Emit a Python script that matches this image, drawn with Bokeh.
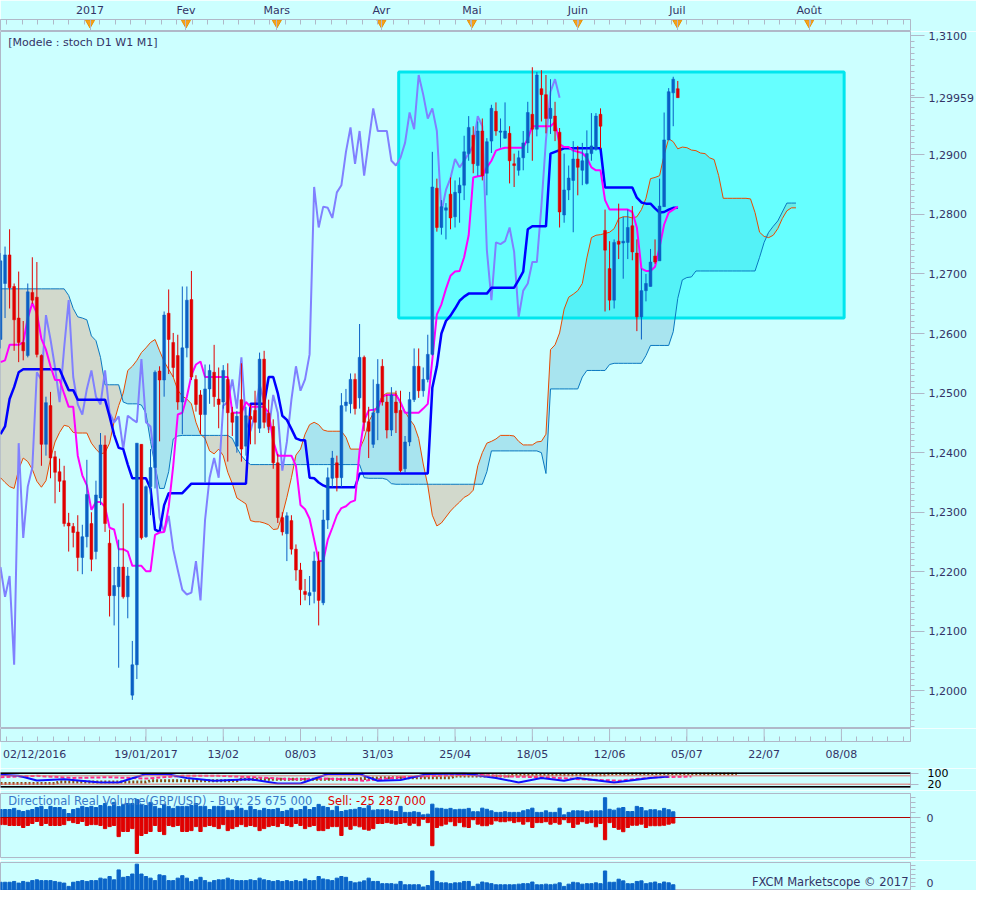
import numpy as np
from bokeh.plotting import figure
from bokeh.layouts import column
from bokeh.models import (Range1d, FixedTicker, CustomJSTickFormatter, Label, Span)
from bokeh.embed import file_html
from bokeh.resources import INLINE

# GBP/USD daily bars, bar 0 = 19/01/2017 (one bar per trading day)
first_bar = -32

opens = [
    1.2590, 1.2684, 1.2732, 1.2679, 1.2626, 1.2585, 1.2563, 1.2669, 1.2661, 1.2563,
    1.2414, 1.2479, 1.2393, 1.2368, 1.2353, 1.2282, 1.2276, 1.2267, 1.2224, 1.2259,
    1.2281, 1.2234, 1.2324, 1.2413, 1.2248, 1.2160, 1.2175, 1.2208, 1.2158, 1.1993,
    1.2044, 1.2414, 1.2259, 1.2343, 1.2375, 1.2537, 1.2522, 1.2634, 1.2585, 1.2563,
    1.2485, 1.2576, 1.2657, 1.2523, 1.2497, 1.2464, 1.2507, 1.2535, 1.2490, 1.2485,
    1.2523, 1.2467, 1.2411, 1.2489, 1.2411, 1.2461, 1.2471, 1.2441, 1.2557, 1.2466,
    1.2444, 1.2383, 1.2291, 1.2264, 1.2286, 1.2238, 1.2203, 1.2167, 1.2160, 1.2167,
    1.2218, 1.2148, 1.2287, 1.2357, 1.2383, 1.2358, 1.2479, 1.2482, 1.2523, 1.2492,
    1.2560, 1.2452, 1.2414, 1.2467, 1.2545, 1.2485, 1.2438, 1.2485, 1.2471, 1.2373,
    1.2418, 1.2489, 1.2545, 1.2504, 1.2523, 1.2565, 1.2844, 1.2778, 1.2807, 1.2834,
    1.2796, 1.2836, 1.2849, 1.2902, 1.2933, 1.2882, 1.2940, 1.2869, 1.2923, 1.2973,
    1.2938, 1.2928, 1.2936, 1.2885, 1.2874, 1.2895, 1.2920, 1.2968, 1.2943, 1.3011,
    1.3001, 1.2961, 1.2965, 1.2938, 1.2799, 1.2841, 1.2857, 1.2893, 1.2874, 1.2852,
    1.2902, 1.2910, 1.2968, 1.2773, 1.2709, 1.2656, 1.2755, 1.2752, 1.2753, 1.2781,
    1.2735, 1.2628, 1.2672, 1.2679, 1.2730, 1.2722, 1.2813, 1.2925, 1.3004, 1.3011,
]
highs = [
    1.2735, 1.2746, 1.2775, 1.2684, 1.2704, 1.2621, 1.2684, 1.2728, 1.2720, 1.2565,
    1.2494, 1.2502, 1.2403, 1.2390, 1.2378, 1.2299, 1.2282, 1.2295, 1.2279, 1.2388,
    1.2300, 1.2353, 1.2433, 1.2429, 1.2271, 1.2208, 1.2254, 1.2315, 1.2208, 1.2084,
    1.2416, 1.2414, 1.2345, 1.2406, 1.2538, 1.2545, 1.2637, 1.2674, 1.2601, 1.2598,
    1.2679, 1.2679, 1.2705, 1.2530, 1.2505, 1.2548, 1.2548, 1.2581, 1.2543, 1.2547,
    1.2550, 1.2477, 1.2470, 1.2550, 1.2477, 1.2481, 1.2504, 1.2568, 1.2571, 1.2489,
    1.2456, 1.2398, 1.2300, 1.2300, 1.2295, 1.2246, 1.2215, 1.2188, 1.2193, 1.2234,
    1.2234, 1.2304, 1.2375, 1.2403, 1.2395, 1.2500, 1.2507, 1.2533, 1.2533, 1.2616,
    1.2563, 1.2477, 1.2523, 1.2557, 1.2557, 1.2497, 1.2510, 1.2504, 1.2504, 1.2428,
    1.2502, 1.2575, 1.2575, 1.2543, 1.2598, 1.2905, 1.2860, 1.2824, 1.2819, 1.2862,
    1.2857, 1.2862, 1.2932, 1.2965, 1.2948, 1.2956, 1.2961, 1.2928, 1.2984, 1.2988,
    1.2961, 1.2988, 1.2948, 1.2902, 1.2907, 1.2940, 1.2989, 1.3047, 1.3039, 1.3042,
    1.3034, 1.3027, 1.2989, 1.2945, 1.2902, 1.2882, 1.2923, 1.2915, 1.2920, 1.2941,
    1.2970, 1.2970, 1.2978, 1.2808, 1.2755, 1.2758, 1.2818, 1.2796, 1.2808, 1.2814,
    1.2758, 1.2709, 1.2700, 1.2742, 1.2758, 1.2860, 1.2971, 1.3012, 1.3031, 1.3024,
]
lows = [
    1.2575, 1.2626, 1.2642, 1.2571, 1.2552, 1.2555, 1.2560, 1.2650, 1.2560, 1.2378,
    1.2395, 1.2357, 1.2315, 1.2334, 1.2276, 1.2234, 1.2241, 1.2201, 1.2196, 1.2241,
    1.2201, 1.2221, 1.2312, 1.2267, 1.2125, 1.2110, 1.2039, 1.2155, 1.2122, 1.1985,
    1.2020, 1.2254, 1.2257, 1.2295, 1.2340, 1.2419, 1.2494, 1.2532, 1.2527, 1.2472,
    1.2431, 1.2560, 1.2522, 1.2469, 1.2431, 1.2350, 1.2482, 1.2477, 1.2441, 1.2474,
    1.2385, 1.2428, 1.2400, 1.2385, 1.2395, 1.2414, 1.2414, 1.2433, 1.2441, 1.2433,
    1.2373, 1.2282, 1.2261, 1.2218, 1.2229, 1.2185, 1.2144, 1.2152, 1.2144, 1.2147,
    1.2110, 1.2144, 1.2272, 1.2342, 1.2335, 1.2342, 1.2469, 1.2466, 1.2464, 1.2474,
    1.2436, 1.2391, 1.2408, 1.2421, 1.2479, 1.2424, 1.2428, 1.2433, 1.2367, 1.2367,
    1.2411, 1.2485, 1.2492, 1.2494, 1.2518, 1.2563, 1.2771, 1.2766, 1.2758, 1.2775,
    1.2778, 1.2786, 1.2824, 1.2890, 1.2869, 1.2865, 1.2857, 1.2832, 1.2903, 1.2932,
    1.2912, 1.2927, 1.2852, 1.2846, 1.2865, 1.2874, 1.2903, 1.2890, 1.2931, 1.2956,
    1.2936, 1.2935, 1.2923, 1.2778, 1.2786, 1.2824, 1.2770, 1.2832, 1.2849, 1.2850,
    1.2890, 1.2907, 1.2910, 1.2637, 1.2639, 1.2642, 1.2725, 1.2692, 1.2725, 1.2723,
    1.2604, 1.2590, 1.2654, 1.2679, 1.2717, 1.2722, 1.2813, 1.2925, 1.2948, 1.2996,
]
closes = [
    1.2722, 1.2732, 1.2677, 1.2623, 1.2585, 1.2571, 1.2670, 1.2656, 1.2565, 1.2414,
    1.2484, 1.2391, 1.2367, 1.2352, 1.2281, 1.2277, 1.2266, 1.2224, 1.2259, 1.2330,
    1.2221, 1.2329, 1.2413, 1.2281, 1.2160, 1.2177, 1.2208, 1.2158, 1.2193, 1.2044,
    1.2416, 1.2257, 1.2343, 1.2375, 1.2535, 1.2522, 1.2631, 1.2590, 1.2543, 1.2485,
    1.2576, 1.2656, 1.2527, 1.2481, 1.2464, 1.2507, 1.2538, 1.2494, 1.2481, 1.2538,
    1.2467, 1.2451, 1.2461, 1.2406, 1.2462, 1.2456, 1.2451, 1.2557, 1.2451, 1.2444,
    1.2383, 1.2291, 1.2267, 1.2294, 1.2238, 1.2203, 1.2170, 1.2162, 1.2165, 1.2218,
    1.2152, 1.2287, 1.2358, 1.2391, 1.2358, 1.2479, 1.2485, 1.2523, 1.2474, 1.2560,
    1.2451, 1.2436, 1.2467, 1.2515, 1.2485, 1.2438, 1.2497, 1.2467, 1.2370, 1.2418,
    1.2489, 1.2545, 1.2504, 1.2523, 1.2565, 1.2846, 1.2778, 1.2813, 1.2811, 1.2794,
    1.2837, 1.2849, 1.2905, 1.2946, 1.2885, 1.2940, 1.2865, 1.2922, 1.2978, 1.2940,
    1.2940, 1.2940, 1.2890, 1.2882, 1.2895, 1.2920, 1.2971, 1.2943, 1.3034, 1.3001,
    1.2961, 1.2978, 1.2940, 1.2804, 1.2841, 1.2861, 1.2893, 1.2879, 1.2890, 1.2902,
    1.2915, 1.2965, 1.2948, 1.2740, 1.2656, 1.2753, 1.2750, 1.2755, 1.2778, 1.2737,
    1.2628, 1.2672, 1.2684, 1.2720, 1.2720, 1.2814, 1.2925, 1.3006, 1.3027, 1.29959,
]

# Ichimoku lines (same bars as the candles)
tenkan = [
    1.2552, 1.2555, 1.2581, 1.2581, 1.2581, 1.2585, 1.2626, 1.2651, 1.2634, 1.2591,
    1.2573, 1.2545, 1.2522, 1.2522, 1.2499, 1.2477, 1.2477, 1.2395, 1.2362, 1.2345,
    1.2304, 1.2317, 1.2317, 1.2309, 1.2274, 1.2271, 1.2238, 1.2238, 1.2234, 1.2210,
    1.2210, 1.2210, 1.2201, 1.2201, 1.2262, 1.2266, 1.2267, 1.2309, 1.2378, 1.2464,
    1.2467, 1.2494, 1.2530, 1.2548, 1.2553, 1.2527, 1.2527, 1.2527, 1.2527, 1.2527,
    1.2527, 1.2467, 1.2467, 1.2467, 1.2485, 1.2477, 1.2477, 1.2477, 1.2477, 1.2467,
    1.2419, 1.2395, 1.2395, 1.2395, 1.2395, 1.2378, 1.2312, 1.2305, 1.2289, 1.2254,
    1.2218, 1.2218, 1.2254, 1.2274, 1.2295, 1.2307, 1.2310, 1.2317, 1.2320, 1.2403,
    1.2454, 1.2471, 1.2472, 1.2474, 1.2494, 1.2497, 1.2497, 1.2497, 1.2485, 1.2467,
    1.2467, 1.2467, 1.2467, 1.2474, 1.2482, 1.2556, 1.2632, 1.2649, 1.2675, 1.2697,
    1.2704, 1.2705, 1.2728, 1.2765, 1.2862, 1.2864, 1.2865, 1.2879, 1.2890, 1.2907,
    1.2910, 1.2912, 1.2912, 1.2912, 1.2912, 1.2912, 1.2927, 1.2948, 1.2948, 1.2948,
    1.2948, 1.2948, 1.2955, 1.2918, 1.2913, 1.2913, 1.2907, 1.2905, 1.2903, 1.2895,
    1.2879, 1.2874, 1.2874, 1.2824, 1.2808, 1.2808, 1.2808, 1.2808, 1.2808, 1.2804,
    1.2778, 1.2709, 1.2705, 1.2705, 1.2712, 1.2745, 1.2783, 1.2803, 1.2808, 1.2813,
]
kijun = ([1.2431, 1.2444, 1.2490, 1.2510, 1.2535] + [1.2540] * 9
         + [1.2522, 1.2505, 1.2505] + [1.2489] * 7
         + [1.2461, 1.2430, 1.2408, 1.2406, 1.2380] + [1.2357] * 4
         + [1.2340, 1.2271, 1.2267, 1.2312] + [1.2332] * 4 + [1.2340]
         + [1.2348] * 13 + [1.2482] * 4
         + [1.2527, 1.2527, 1.2500, 1.2462, 1.2455, 1.2440, 1.2424, 1.2421, 1.2421,
            1.2358, 1.2357, 1.2350, 1.2345]
         + [1.2342] * 7 + [1.2365] * 16
         + [1.2509, 1.2545, 1.2600, 1.2621, 1.2630, 1.2642, 1.2655, 1.2662]
         + [1.2667] * 5 + [1.2677] * 6 + [1.2690, 1.2704, 1.2775] + [1.2780] * 4
         + [1.2902, 1.2905, 1.2908] + [1.2911] * 9 + [1.2845] * 7
         + [1.2828, 1.2820, 1.2818, 1.2818, 1.2810, 1.2803, 1.2804, 1.2808, 1.2811, 1.2811])

# cloud spans run 26 bars past the last candle
senkou_a = [
    1.2358, 1.2350, 1.2343, 1.2340, 1.2372, 1.2391, 1.2385, 1.2372, 1.2352, 1.2342,
    1.2353, 1.2390, 1.2418, 1.2434, 1.2446, 1.2444, 1.2434, 1.2433, 1.2433, 1.2433,
    1.2416, 1.2406, 1.2398, 1.2400, 1.2416, 1.2452, 1.2479, 1.2500, 1.2538, 1.2545,
    1.2555, 1.2568, 1.2576, 1.2585, 1.2590, 1.2571, 1.2553, 1.2540, 1.2527, 1.2505,
    1.2495, 1.2490, 1.2482, 1.2451, 1.2431, 1.2424, 1.2403, 1.2398, 1.2406, 1.2395,
    1.2367, 1.2348, 1.2324, 1.2319, 1.2314, 1.2286, 1.2284, 1.2284, 1.2282, 1.2279,
    1.2271, 1.2272, 1.2295, 1.2325, 1.2358, 1.2396, 1.2406, 1.2431, 1.2447, 1.2451,
    1.2447, 1.2438, 1.2436, 1.2436, 1.2436, 1.2436, 1.2426, 1.2406, 1.2406, 1.2406,
    1.2423, 1.2452, 1.2466, 1.2480, 1.2495, 1.2500, 1.2500, 1.2500, 1.2482, 1.2469,
    1.2456, 1.2446, 1.2424, 1.2381, 1.2345, 1.2295, 1.2277, 1.2282, 1.2292, 1.2302,
    1.2310, 1.2317, 1.2325, 1.2329, 1.2337, 1.2378, 1.2400, 1.2416, 1.2419, 1.2423,
    1.2429, 1.2429, 1.2429, 1.2428, 1.2419, 1.2413, 1.2413, 1.2413, 1.2418, 1.2419,
    1.2431, 1.2573, 1.2581, 1.2601, 1.2641, 1.2661, 1.2666, 1.2672, 1.2684, 1.2727,
    1.2761, 1.2765, 1.2766, 1.2768, 1.2770, 1.2776, 1.2793, 1.2796, 1.2796, 1.2794,
    1.2796, 1.2808, 1.2827, 1.2860, 1.2862, 1.2865, 1.2900, 1.2927, 1.2922, 1.2910,
    1.2913, 1.2912, 1.2908, 1.2907, 1.2903, 1.2902, 1.2895, 1.2892, 1.2865, 1.2827,
    1.2827, 1.2827, 1.2827, 1.2827, 1.2827, 1.2826, 1.2803, 1.2770, 1.2763, 1.2761,
    1.2765, 1.2776, 1.2793, 1.2806, 1.2811, 1.2811,
]
senkou_b = ([1.2675] * 15
            + [1.2664, 1.2642, 1.2628, 1.2626, 1.2623, 1.2596, 1.2588, 1.2560]
            + [1.2514] * 4 + [1.2485] + [1.2482] * 3
            + [1.2480, 1.2466, 1.2419, 1.2378, 1.2340, 1.2340, 1.2368, 1.2423, 1.2428]
            + [1.2429] * 11 + [1.2424, 1.2408, 1.2395, 1.2386] + [1.2380] * 25
            + [1.2358] + [1.2357] * 4 + [1.2355, 1.2348] + [1.2347] * 20
            + [1.2368] + [1.2403] * 11 + [1.2400, 1.2365] + [1.2507] * 7
            + [1.2527] + [1.2538] * 5 + [1.2548] + [1.2550] * 7 + [1.2563]
            + [1.2580] * 5 + [1.2603, 1.2659, 1.2690, 1.2694, 1.2695] + [1.2705] * 14
            + [1.2728, 1.2753, 1.2770, 1.2780, 1.2789, 1.2804] + [1.2819] * 3)
chikou_shift = 26

# Directional Real Volume panel (millions) and total volume panel
buy_volume = [
    36, 36, 36, 41, 32, 27, 32, 36, 45, 50, 36, 50, 45, 45, 36, 18, 36, 41, 50, 45,
    50, 45, 54, 63, 50, 68, 50, 59, 63, 63, 81, 59, 54, 68, 50, 41, 59, 50, 41, 50,
    50, 50, 54, 63, 50, 50, 36, 50, 50, 50, 32, 32, 50, 41, 32, 50, 36, 32, 41, 36,
    36, 41, 27, 32, 41, 32, 36, 50, 36, 45, 59, 50, 45, 32, 50, 27, 32,
    35, 37, 45, 41, 53, 33, 35, 35, 35, 30, 27, 50, 23, 23, 26, 23, 12, 15, 60, 42,
    41, 37, 41, 35, 37, 37, 41, 26, 26, 42, 37, 30, 23, 23, 26, 23, 23, 23, 30, 35,
    42, 23, 23, 30, 23, 23, 42, 12, 23, 30, 30, 30, 26, 30, 30, 30, 89, 37, 33, 42,
    45, 27, 27, 50, 45, 30, 35, 35, 30, 41, 35, 25.675,
]
sell_volume = [
    32, 32, 36, 36, 36, 45, 36, 27, 18, 36, 27, 36, 36, 36, 32, 14, 23, 27, 18, 36,
    32, 32, 36, 50, 41, 36, 86, 63, 63, 50, 162, 81, 72, 63, 36, 63, 77, 36, 41, 36,
    63, 63, 59, 41, 63, 41, 36, 41, 50, 32, 59, 50, 41, 32, 41, 36, 41, 59, 50, 41,
    36, 41, 27, 36, 41, 27, 36, 50, 41, 36, 59, 59, 50, 41, 41, 81, 41,
    53, 37, 42, 53, 57, 50, 27, 27, 23, 26, 30, 27, 23, 35, 26, 37, 8, 23, 127, 45,
    37, 30, 19, 37, 23, 42, 45, 10, 30, 37, 37, 30, 15, 19, 19, 15, 23, 19, 30, 19,
    45, 23, 23, 19, 30, 23, 30, 10, 23, 45, 30, 19, 26, 23, 42, 27, 100, 23, 45, 53,
    64, 45, 35, 35, 30, 45, 37, 37, 37, 35, 30, 25.287,
]
total_volume = [
    10, 10, 10, 11, 9, 11, 10, 12, 13, 12, 12, 12, 11, 10, 9, 5, 10, 11, 12, 11,
    12, 12, 15, 14, 17, 13, 25, 16, 17, 20, 32, 20, 17, 15, 12, 19, 18, 12, 12, 15,
    18, 15, 11, 13, 16, 12, 10, 12, 13, 13, 15, 13, 12, 12, 12, 13, 12, 15, 13, 12,
    11, 12, 11, 12, 11, 12, 11, 14, 12, 12, 17, 14, 13, 12, 15, 17, 16,
    11, 9.3, 10.3, 11.7, 15, 11, 11, 8.3, 8.3, 8.3, 7.7, 11, 7, 7, 7, 7, 4.3, 6, 23.7, 11,
    9.3, 9.3, 8.3, 9.3, 9.3, 11, 11, 5, 7.7, 10.3, 9.3, 8.3, 7, 7, 7, 7, 7, 7.7, 8.3, 8.3,
    10.3, 7, 7, 7.7, 7, 7.7, 9.3, 5, 7.7, 10, 9.3, 7.7, 8.3, 8.3, 9.3, 8.3, 23.7, 10, 10, 13.7,
    11.7, 8.3, 8.3, 11, 11.7, 8.3, 9.3, 10.3, 8.3, 10.3, 9.3, 7,
]

# stochastics D1 / W1 / M1 (bar, value)
stoch_d1_bars = [-32, -28, -24, -18, -10, -6, 0, 5, 9, 15, 23, 29, 34, 40, 47, 51, 56, 62, 70, 77,
                 82, 87, 92, 95, 103, 111, 115]
stoch_d1 = [87, 80, 47, 55, 32, 32, 93, 90, 65, 45, 55, 25, 25, 93, 93, 45, 50, 93, 97, 65,
            32, 65, 45, 65, 32, 65, 75]
stoch_w1_bars = [-32, -24, -16, -8, 0, 8, 16, 24, 32, 40, 48, 56, 64, 72, 80, 88, 96, 104, 112, 120]
stoch_w1 = [70, 80, 65, 70, 60, 80, 80, 70, 55, 60, 45, 70, 80, 90, 75, 70, 55, 45, 70, 75]
stoch_m1_bars = [-32, -20, -19, 0, 1, 20, 21, 45, 52, 67, 68, 80, 81, 101, 102, 130]
stoch_m1 = [25, 25, 35, 35, 45, 45, 55, 55, 67, 67, 78, 78, 87, 87, 95, 95]
stoch_levels = [20, 100]

month_names = ["2017", "Fev", "Mars", "Avr", "Mai", "Juin", "Juil", "Août"]
month_pos = [-12.3, 8.8, 28.8, 51.8, 71.7, 95.0, 116.9, 145.9]
date_names = ["19/01/2017", "13/02", "08/03", "31/03", "25/04", "18/05", "12/06", "05/07",
              "22/07", "08/08"]
date_pos = [0, 17, 34, 51, 68, 85, 102, 119, 136, 153]
first_date_name = "02/12/2016"   # its tick (bar -34) lies just off the left edge

box_bars = (55.6, 153.6)
box_prices = (1.2626, 1.3039)

BG = "#ccffff"
EDGE = "#b0b8c8"
TXT = "#333366"
FONT = "DejaVu Sans"
BLUE = "#0a5fc4"
RED = "#e00000"

W = 976
RIGHT = 66
xr = Range1d(-32.0, 168.2)
minor_grid = [round(v, 2) for v in np.arange(-34, 170, 3.4)]


def panel(height, y_range, top=0, bottom=0, **kw):
    p = figure(width=W, height=height, x_range=xr, y_range=y_range,
               toolbar_location=None, output_backend="svg",
               min_border_left=0, min_border_right=RIGHT,
               min_border_top=top, min_border_bottom=bottom,
               background_fill_color=BG, border_fill_color=BG,
               outline_line_color=EDGE, **kw)
    p.grid.visible = False
    return p


def style_axis(ax):
    ax.axis_line_color = EDGE
    ax.major_tick_line_color = EDGE
    ax.minor_tick_line_color = EDGE
    ax.major_label_text_font = FONT
    ax.major_label_text_font_size = "11px"
    ax.major_label_text_color = TXT


# month strip on top
top = panel(31, Range1d(0, 1), top=18, x_axis_location="above", y_axis_location=None)
ax = top.xaxis[0]
style_axis(ax)
ax.ticker = FixedTicker(ticks=month_pos, minor_ticks=minor_grid)
ax.major_label_overrides = dict(zip(month_pos, month_names))
ax.major_tick_in, ax.major_tick_out = 13, 0
ax.minor_tick_in, ax.minor_tick_out = 5, 0
ax.major_label_standoff = 3
top.scatter(month_pos, [0.72] * len(month_pos), marker="inverted_triangle", size=9,
            fill_color="#f7a21b", line_color="#e89000")

# main price chart; the last price replaces the 1,3000 label as in the original
last_price = closes[-1]
price_ticks = [round(1.20 + 0.01 * k, 2) for k in range(12) if k != 10] + [last_price]
main = panel(697, Range1d(1.1937, 1.3107), x_axis_location=None, y_axis_location="right")
ya = main.yaxis[0]
style_axis(ya)
ya.ticker = FixedTicker(ticks=price_ticks,
                        minor_ticks=[round(1.19 + 0.001 * k, 3) for k in range(122)])
ya.formatter = CustomJSTickFormatter(code="""
    const s = Math.abs(tick * 100 - Math.round(tick * 100)) < 1e-6 ? tick.toFixed(4) : tick.toFixed(5);
    return s.replace('.', ',');
""")
ya.major_tick_out, ya.major_tick_in = 14, 0
ya.minor_tick_out, ya.minor_tick_in = 4, 0
ya.major_label_standoff = 4

bars = np.arange(first_bar, first_bar + len(closes))
cloud_bars = np.arange(first_bar, first_bar + len(senkou_a))
sa = np.array(senkou_a)
sb = np.array(senkou_b)
upper = np.maximum(sa, sb)
main.varea(cloud_bars, y1=sb, y2=upper, fill_color="#a8e4ef")
main.varea(cloud_bars, y1=sa, y2=upper, fill_color="#d2d9cc")

main.quad(left=box_bars[0], right=box_bars[1], bottom=box_prices[0], top=box_prices[1],
          fill_color="#00ffff", fill_alpha=0.5, line_color="#00e6ee", line_width=3)

main.line(cloud_bars, sa, line_color="#e84a00", line_width=1)
main.line(cloud_bars, sb, line_color="#0a78c0", line_width=1)
main.line(bars - chikou_shift, closes, line_color="#8080ff", line_width=2)
main.line(bars, kijun, line_color="#0000ff", line_width=2.5)
main.line(bars, tenkan, line_color="#ff00ff", line_width=2)

o = np.array(opens)
c = np.array(closes)
colors = [BLUE if cc >= oo else RED for oo, cc in zip(o, c)]
main.segment(bars, lows, bars, highs, line_color=colors, line_width=1)
main.vbar(bars, width=0.62, top=np.maximum(o, c), bottom=np.minimum(o, c),
          fill_color=colors, line_color=colors, line_width=0.5)

main.add_layout(Label(x=-30.3, y=1.3099, text="[Modele : stoch D1 W1 M1]",
                      text_font=FONT, text_font_size="11px", text_color=TXT,
                      text_baseline="top"))

# date strip below (date ticks drawn full height, label-only tick for 02/12/2016)
bstrip = panel(40, Range1d(0, 1), bottom=27, x_axis_location="below", y_axis_location=None)
bx = bstrip.xaxis[0]
style_axis(bx)
first_label_pos = -24.5
bx.ticker = FixedTicker(ticks=[first_label_pos] + date_pos, minor_ticks=minor_grid)
bx.major_label_overrides = dict(zip([first_label_pos] + date_pos, [first_date_name] + date_names))
bx.major_tick_in, bx.major_tick_out = 0, 0
bx.minor_tick_in, bx.minor_tick_out = 5, 0
bx.major_label_standoff = 6
bstrip.segment(date_pos, 0, date_pos, 1, line_color=EDGE, line_width=1)

# stochastics strip
stoch = panel(22, Range1d(-4, 104), top=4, bottom=3, x_axis_location=None, y_axis_location="right")
sy = stoch.yaxis[0]
style_axis(sy)
sy.ticker = FixedTicker(ticks=stoch_levels)
sy.major_label_text_color = "black"
sy.major_tick_out, sy.minor_tick_out = 8, 0
sy.major_label_standoff = 9
for lvl, col, w in [(100, "black", 2), (0, "black", 2), (80, "#e87070", 1), (20, "#e87070", 1)]:
    stoch.add_layout(Span(location=lvl, dimension="width", line_color=col, line_width=w))
stoch.line(stoch_m1_bars, stoch_m1, line_color="#8b4a10", line_width=3, line_dash="2 2")
stoch.line(stoch_w1_bars, stoch_w1, line_color="#ff2a8a", line_width=2, line_dash="4 2")
stoch.line(stoch_d1_bars, stoch_d1, line_color="#1010ff", line_width=2)

# directional real volume
n_vol = min(len(buy_volume), len(sell_volume), len(total_volume))
vol_bars = np.arange(first_bar, first_bar + n_vol)
buy = np.array(buy_volume[:n_vol])
sell = np.array(sell_volume[:n_vol])

drv = panel(70, Range1d(-180, 108), top=3, bottom=3, x_axis_location=None, y_axis_location="right")
dy = drv.yaxis[0]
style_axis(dy)
dy.ticker = FixedTicker(ticks=[0], minor_ticks=[float(v) for v in np.arange(-180, 109, 22.5)])
dy.major_tick_out, dy.minor_tick_out = 10, 5
dy.major_label_standoff = 6
drv.vbar(vol_bars, width=0.72, top=buy, bottom=0, color="#0a64c8")
drv.vbar(vol_bars, width=0.72, top=0, bottom=-sell, color=RED)
drv.add_layout(Span(location=0, dimension="width", line_color="#b00000", line_width=1))


def millions(v):
    return f"{int(round(v * 1e6)):,}".replace(",", " ")


drv.add_layout(Label(x=-30.3, y=106, text=f"Directional Real Volume(GBP/USD) -  Buy: {millions(buy[-1])}",
                     text_font=FONT, text_font_size="11.5px", text_color="#3a78c8",
                     text_baseline="top"))
drv.add_layout(Label(x=40.0, y=106, text=f"Sell: -{millions(sell[-1])}",
                     text_font=FONT, text_font_size="11.5px", text_color=RED,
                     text_baseline="top"))

# total volume
vol = panel(30, Range1d(0, 34), top=2, bottom=0, x_axis_location=None, y_axis_location="right")
vy = vol.yaxis[0]
style_axis(vy)
vy.ticker = FixedTicker(ticks=[0], minor_ticks=[5.0, 10.0, 15.0, 20.0, 25.0, 30.0])
vy.major_tick_out, vy.minor_tick_out = 10, 5
vy.major_label_standoff = 6
vol.vbar(vol_bars, width=0.72, top=total_volume[:n_vol], bottom=0, color="#0a64c8")
vol.add_layout(Label(x=xr.end, x_offset=-2, y=1.5, text="FXCM Marketscope © 2017",
                     text_font=FONT, text_font_size="11.5px", text_color=TXT,
                     text_align="right", text_baseline="bottom"))

layout = column(top, main, bstrip, stoch, drv, vol)
open("out.html", "w").write(file_html(layout, INLINE, "GBP/USD"))
